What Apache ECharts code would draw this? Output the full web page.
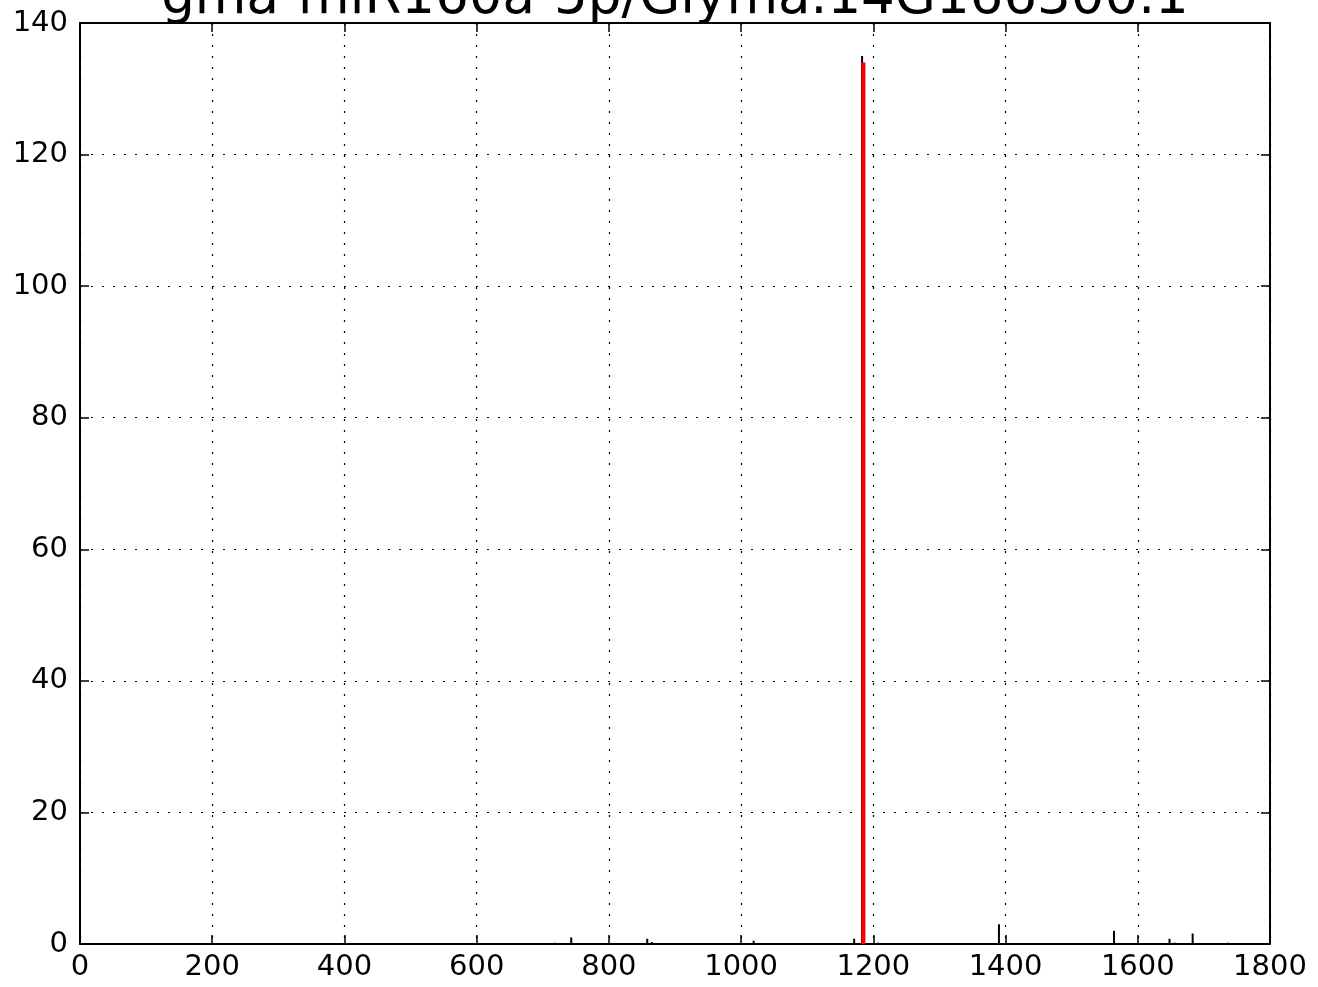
<!DOCTYPE html>
<html>
<head>
<meta charset="utf-8">
<script src="https://cdn.jsdelivr.net/npm/echarts@6/dist/echarts.min.js"></script>
<style>
  html, body { margin: 0; padding: 0; background: #fff; }
  #main { width: 1318px; height: 987px; }
</style>
</head>
<body>
<div id="main"></div>
<script>
// 标题
var titleText = 'gma-miR160a-5p/Glyma.14G166300.1';

// 降解组读数（黑色竖线）：位置、丰度
var readPos = [718, 743, 858, 865, 1019, 1171, 1183, 1207, 1390, 1564, 1648, 1656, 1683, 1736];
var readVal = [0.2, 1.0, 0.8, 0.3, 0.5, 0.8, 135, 0.2, 3.0, 2.0, 0.8, 0.2, 1.6, 0.2];

// 切割位点（红色竖线）
var sitePos = [1185];
var siteVal = [134];

// 坐标轴刻度
var xTicks = [0, 200, 400, 600, 800, 1000, 1200, 1400, 1600, 1800];
var yTicks = [0, 20, 40, 60, 80, 100, 120, 140];

var main = document.getElementById('main');
var chart = echarts.init(main);

function pairs(xs, ys) {
    return xs.map(function (x, i) { return [x, ys[i]]; });
}

// 竖线绘制
function vline(color, width) {
    return function (params, api) {
        var p0 = api.coord([api.value(0), 0]);
        var p1 = api.coord([api.value(0), api.value(1)]);
        return {
            type: 'line',
            shape: { x1: p0[0], y1: p0[1], x2: p1[0], y2: p1[1] },
            style: { stroke: color, lineWidth: width }
        };
    };
}

var font = 'DejaVu Sans';
var gridLine = { show: true, lineStyle: { color: '#000', type: [2, 9], width: 1.2 } };
var frame = { show: true, onZero: false, lineStyle: { color: '#000', width: 2 } };
var tick = { show: true, inside: true, length: 9, lineStyle: { color: '#000', width: 1.5 } };

var option = {
    animation: false,
    backgroundColor: '#fff',
    grid: { left: 80, right: 48, top: 23, bottom: 43 },
    graphic: [{
        type: 'text',
        x: 675,
        y: -27,
        z: 100,
        style: {
            text: titleText, fontFamily: font, fontSize: 53, fill: '#000',
            textAlign: 'center', textVerticalAlign: 'top'
        }
    }],
    xAxis: [{
        type: 'value', min: xTicks[0], max: xTicks[xTicks.length - 1], interval: 200,
        axisLine: frame, axisTick: tick, splitLine: gridLine,
        axisLabel: {
            color: '#000', fontFamily: font, fontSize: 29, margin: 9,
            formatter: function (v) { return String(v); }
        }
    }, {
        type: 'value', position: 'top', min: 0, max: 1800, interval: 200,
        axisLine: frame, axisTick: tick, splitLine: { show: false },
        axisLabel: { show: false }
    }],
    yAxis: [{
        type: 'value', min: yTicks[0], max: yTicks[yTicks.length - 1], interval: 20,
        axisLine: frame, axisTick: tick, splitLine: gridLine,
        axisLabel: {
            color: '#000', fontFamily: font, fontSize: 29, margin: 12,
            formatter: function (v) { return String(v); }
        }
    }, {
        type: 'value', position: 'right', min: 0, max: 140, interval: 20,
        axisLine: frame, axisTick: tick, splitLine: { show: false },
        axisLabel: { show: false }
    }],
    series: [{
        type: 'custom',
        name: 'reads',
        renderItem: vline('#000', 2),
        data: pairs(readPos, readVal),
        z: 3
    }, {
        type: 'custom',
        name: 'site',
        renderItem: vline('#ff0000', 4),
        data: pairs(sitePos, siteVal),
        z: 4
    }]
};

chart.setOption(option);
</script>
</body>
</html>
